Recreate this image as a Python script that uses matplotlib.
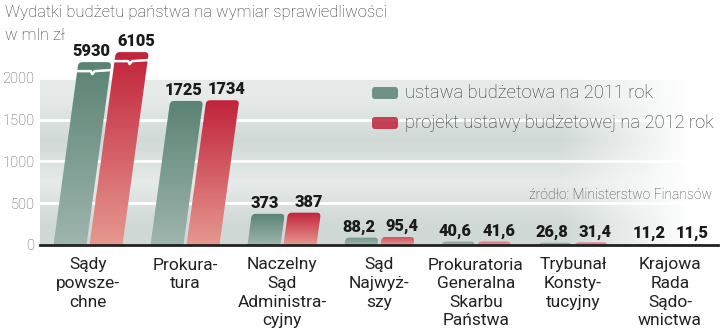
import numpy as np
import matplotlib.pyplot as plt
from matplotlib.patches import FancyBboxPatch
from matplotlib.transforms import Affine2D, IdentityTransform
from matplotlib.lines import Line2D
from matplotlib.colors import LinearSegmentedColormap, to_rgb

categories = ['Sądy\npowsze-\nchne', 'Prokura-\ntura', 'Naczelny\nSąd\nAdministra-\ncyjny',
              'Sąd\nNajwyż-\nszy', 'Prokuratoria\nGeneralna\nSkarbu\nPaństwa',
              'Trybunał\nKonsty-\ntucyjny', 'Krajowa\nRada\nSądo-\nwnictwa']
budget_2011 = [5930, 1725, 373, 88.2, 40.6, 26.8, 11.2]
budget_2012 = [6105, 1734, 387, 95.4, 41.6, 31.4, 11.5]
series_names = ['ustawa budżetowa na 2011 rok', 'projekt ustawy budżetowej na 2012 rok']
yticks = [0, 500, 1000, 1500, 2000]

title = 'Wydatki budżetu państwa na wymiar sprawiedliwości'
unit = 'w mln zł'
source = 'źródło: Ministerstwo Finansów'

# bars above this are drawn broken
BREAK_AT = 2000
BROKEN_TOP = [2190, 2310]

GREEN = ('#9fb5ad', '#5a8374')   # bottom, top
RED = ('#e69890', '#c1233b')


def fmt(v):
    s = ('%d' % v) if v >= 100 else ('%.1f' % v)
    return s.replace('.', ',')


fig = plt.figure(figsize=(7.2, 3.3), dpi=100)
ax = fig.add_axes([40/720, 85/330, 678/720, 205/330])
xmin, xmax = -0.495, 6.495
ymin, ymax = 0, 2455
ax.set_xlim(xmin, xmax)
ax.set_ylim(ymin, ymax)

# pixel <-> data scales
ux = (xmax - xmin) / 678.0
uy = (ymax - ymin) / 205.0

# slanted bars: shear in data coords
k = (25 * ux) / 2200.0
shear = Affine2D.from_values(1, 0, k, 1, 0, 0) + ax.transData

# background bands fading to white on the right
nx = 300
fade = np.clip((np.linspace(0, 1, nx) - 0.77) / (0.96 - 0.77), 0, 1)
band_cols = [to_rgb('#d0d9d6'), to_rgb('#e6eae9')]
bg = np.ones((4, nx, 3))
for b in range(4):
    c = np.array(band_cols[b % 2])
    bg[b] = c[None, :] * (1 - fade[:, None]) + fade[:, None]
ax.imshow(bg, extent=[xmin, xmax, 0, 2000], origin='lower', aspect='auto',
          interpolation='bilinear', zorder=0)
for t in yticks[1:]:
    ax.axhline(t, color='white', lw=2, zorder=1)

r_px = 4
r_x = r_px * ux
r_y = r_px * uy
w = 33 * ux
off = 18 * ux
grad = np.linspace(0, 1, 256).reshape(-1, 1)

for s, (vals, cols) in enumerate([(budget_2011, GREEN), (budget_2012, RED)]):
    cmap = LinearSegmentedColormap.from_list('g%d' % s, cols)
    for i, v in enumerate(vals):
        xc = i - off if s == 0 else i + off
        h = v if v <= BREAK_AT else BROKEN_TOP[s]
        y0 = -2 * r_y
        patch = FancyBboxPatch((xc - w/2, y0), w, h - y0,
                               boxstyle='round,pad=0,rounding_size=%f' % r_x,
                               mutation_aspect=uy/ux, transform=shear,
                               facecolor='none', edgecolor='none')
        ax.add_patch(patch)
        im = ax.imshow(grad, extent=[xc - w, xc + w + 0.3, 0, max(h, 150)],
                       origin='lower', aspect='auto', cmap=cmap, zorder=2)
        im.set_clip_path(patch)
        if v > BREAK_AT:
            yb = h - 9 * uy
            xs = [xc - w/2, xc - 0.03, xc - 0.01, xc + 0.01, xc + w/2]
            ys = [yb, yb, yb - 3 * uy, yb, yb + uy]
            ax.add_line(Line2D(xs, ys, color='white', lw=1.8, transform=shear, zorder=3))
        dx = -2.5 if s == 0 else 3
        ax.annotate(fmt(v), xy=(xc + k * h, h), xytext=(dx, 2), textcoords='offset points',
                    ha='center', va='bottom', fontsize=11.8, fontweight='heavy',
                    family='Roboto', color='#1a1a1a', zorder=5)

ax.axhline(0, color='#222222', lw=2, zorder=4, clip_on=False)

for i, c in enumerate(categories):
    ax.annotate(c, xy=(i, 0), xytext=(0, -9), textcoords='offset points',
                ha='center', va='top', fontsize=12.5, family='Roboto',
                color='#222222', linespacing=1.3, annotation_clip=False)

ax.set_xticks([])
ax.set_yticks(yticks)
ax.set_yticklabels([str(t) for t in yticks], fontsize=10.5, color='#555555',
                   family='Roboto', fontweight='light')
ax.tick_params(axis='y', length=0, pad=4)
for sp in ax.spines.values():
    sp.set_visible(False)

fig.text(5/720, 1 - 12/330, title, fontsize=12, family='Roboto', fontweight='light',
         color='#333333', va='center')
fig.text(5/720, 1 - 35/330, unit, fontsize=12, family='Roboto', fontweight='light',
         color='#333333', va='center')

# legend
for j, (name, cols) in enumerate(zip(series_names, [GREEN, RED])):
    yc = 93 + 30 * j
    fig.add_artist(FancyBboxPatch((372, 330 - yc - 6), 26, 12,
                                  boxstyle='round,pad=0,rounding_size=3',
                                  transform=IdentityTransform(),
                                  facecolor=cols[1], edgecolor='none', alpha=0.85))
    fig.text(405/720, 1 - yc/330, name, fontsize=13.2, family='Roboto', fontweight='light',
             color='#333333', va='center')

fig.text(712/720, 1 - 195/330, source, fontsize=10, family='Roboto', fontweight='light',
         color='#444444', va='center', ha='right')

fig.savefig('out.png', dpi=100)
